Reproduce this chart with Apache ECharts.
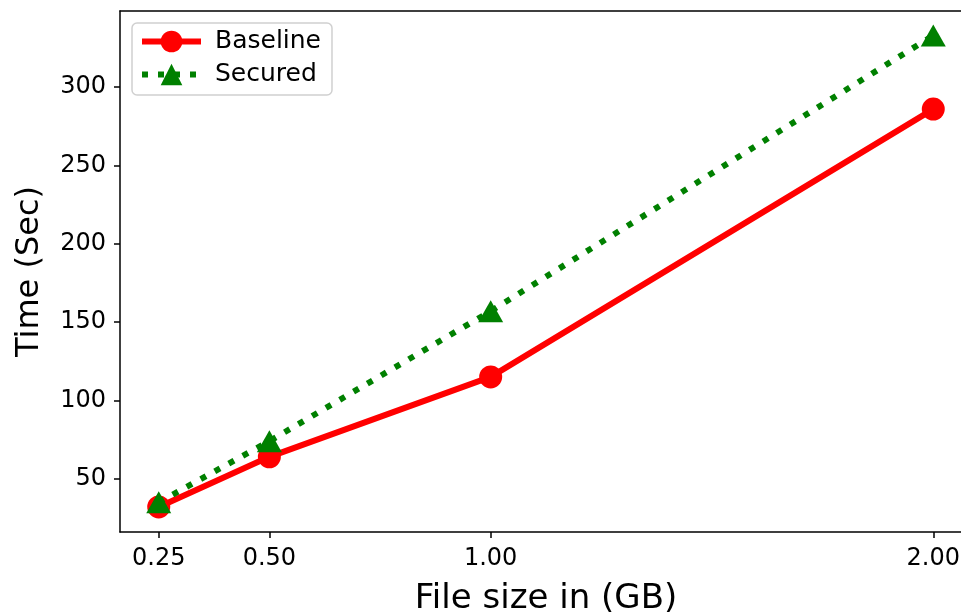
<!DOCTYPE html>
<html>
<head>
<meta charset="UTF-8">
<title>File size vs time</title>
<script src="https://cdn.jsdelivr.net/npm/echarts@6/dist/echarts.min.js"></script>
<style>
html, body { margin: 0; width: 961px; height: 612px; overflow: hidden; background: #fff; }
#main { width: 961px; height: 612px; }
</style>
</head>
<body>
<div id="main"></div>
<script>
// data
var fileSizes = [0.25, 0.5, 1.0, 2.0];
var baseline = [32, 64, 115, 286];
var secured = [35, 74, 157, 333];
var xTicks = [0.25, 0.5, 1.0, 2.0];
var yTicks = [50, 100, 150, 200, 250, 300];

function pairs(xs, ys) {
  return xs.map(function (x, i) { return [x, ys[i]]; });
}

var chart = echarts.init(document.getElementById('main'));
var font = 'DejaVu Sans';
var spine = { show: true, lineStyle: { color: '#000', width: 1.5 } };

chart.setOption({
  animation: false,
  textStyle: { fontFamily: font },
  grid: {
    // the figure is cropped on the right, so the plot runs past the edge
    left: 120, width: 852, top: 11, bottom: 80,
    outerBoundsMode: 'none',
    show: false, borderWidth: 0,
    containLabel: false
  },
  legend: {
    left: 132, top: 23,
    orient: 'vertical',
    itemWidth: 59, itemHeight: 27, itemGap: 8,
    padding: [6, 11, 8, 7],
    borderColor: '#d0d0d0', borderWidth: 1.5, borderRadius: 5,
    lineStyle: { width: 'inherit' },
    textStyle: { fontSize: 25, color: '#000', fontFamily: font, padding: [0, 0, 0, 9] },
    data: ['Baseline', 'Secured']
  },
  xAxis: [{
    type: 'value',
    min: 0.1625, max: 2.0875,
    name: 'File size in (GB)',
    nameLocation: 'middle',
    nameGap: 50,
    nameTextStyle: { fontSize: 34, color: '#000', fontFamily: font },
    splitLine: { show: false },
    axisLine: spine,
    axisTick: { show: true, customValues: xTicks, length: 6, lineStyle: { color: '#000', width: 1.5 } },
    axisLabel: {
      customValues: xTicks, fontSize: 24, color: '#000', margin: 15,
      formatter: function (v) { return v.toFixed(2); }
    }
  }, {
    // top spine only
    type: 'value',
    position: 'top',
    min: 0.1625, max: 2.0875,
    splitLine: { show: false },
    axisLine: spine,
    axisTick: { show: false },
    axisLabel: { show: false }
  }],
  yAxis: {
    type: 'value',
    min: 16, max: 348.6,
    name: 'Time (Sec)',
    nameLocation: 'middle',
    nameGap: 74,
    nameTextStyle: { fontSize: 32, color: '#000', fontFamily: font },
    splitLine: { show: false },
    axisLine: { show: true, onZero: false, lineStyle: { color: '#000', width: 1.5 } },
    axisTick: { show: true, customValues: yTicks, length: 6, lineStyle: { color: '#000', width: 1.5 } },
    axisLabel: { customValues: yTicks, fontSize: 24, color: '#000', margin: 14 }
  },
  series: [
    {
      name: 'Baseline',
      type: 'line',
      data: pairs(fileSizes, baseline),
      symbol: 'circle',
      symbolSize: 23,
      color: '#ff0000',
      lineStyle: { width: 6, color: '#ff0000' },
      itemStyle: { color: '#ff0000' },
      z: 2
    },
    {
      name: 'Secured',
      type: 'line',
      data: pairs(fileSizes, secured),
      symbol: 'triangle',
      symbolSize: [25, 22],
      color: '#008000',
      lineStyle: { width: 6, color: '#008000', type: [6, 10], cap: 'butt' },
      itemStyle: { color: '#008000' },
      z: 3
    }
  ]
});
</script>
</body>
</html>
